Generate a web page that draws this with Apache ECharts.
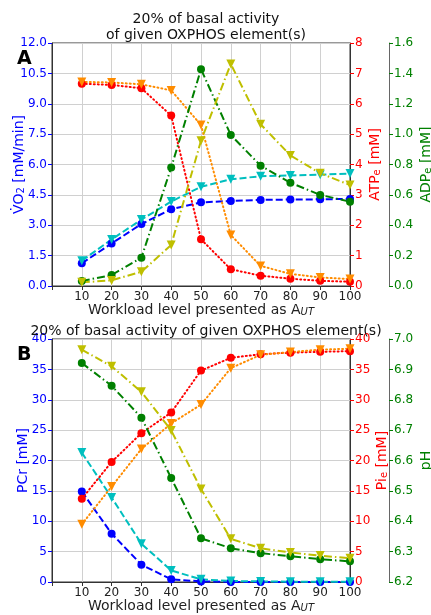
<!DOCTYPE html>
<html><head><meta charset="utf-8">
<script src="https://cdn.jsdelivr.net/npm/echarts@6/dist/echarts.min.js"></script>
<style>html,body{margin:0;padding:0;background:#fff}#c{width:431px;height:615px}</style>
</head><body><div id="c"></div>
<script>
// ---- data ----
const workload = [10,20,30,40,50,60,70,80,90,100];
// Panel A
const vo2Circle = [1.12,2.10,3.06,3.79,4.13,4.20,4.25,4.27,4.28,4.30];
const vo2Tri    = [1.25,2.30,3.28,4.17,4.90,5.27,5.42,5.46,5.50,5.55];
const atpCircle = [6.66,6.62,6.51,5.61,1.54,0.55,0.34,0.24,0.17,0.14];
const atpTri    = [6.72,6.70,6.64,6.44,5.30,1.68,0.66,0.40,0.28,0.23];
const adpCircle = [0.033,0.072,0.186,0.78,1.427,0.994,0.792,0.68,0.60,0.555];
const adpTri    = [0.024,0.037,0.094,0.27,0.957,1.462,1.065,0.86,0.742,0.665];
// Panel B
const pcrCircle = [14.9,7.96,2.85,0.44,0.10,0.02,0.02,0.02,0.02,0.02];
const pcrTri    = [21.3,13.9,6.3,1.9,0.44,0.16,0.10,0.05,0.05,0.05];
const piCircle  = [13.7,19.75,24.5,27.9,34.8,36.9,37.5,37.75,37.9,38.0];
const piTri     = [9.5,15.7,21.9,26.1,29.2,35.2,37.4,37.85,38.25,38.4];
const phCircle  = [6.921,6.846,6.741,6.542,6.344,6.311,6.295,6.285,6.275,6.268];
const phTri     = [6.965,6.91,6.826,6.699,6.506,6.342,6.311,6.297,6.287,6.278];

const titleA1 = '20% of basal activity';
const titleA2 = 'of given OXPHOS element(s)';
const titleB = '20% of basal activity of given OXPHOS element(s)';

// ---- styling ----
const FONT = 'DejaVu Sans';
const BLUE='#0000ff', CYAN='#00bfbf', RED='#ff0000', ORANGE='#ff8c00', GREEN='#008000', OLIVE='#bfbf00';
const GRIDC = '#d0d0d0';

function richFor(color){
  return {
    a:{fontSize:14, color:color, fontFamily:FONT, lineHeight:17, verticalAlign:'bottom'},
    b:{fontSize:10, color:color, fontFamily:FONT, lineHeight:6, verticalAlign:'bottom'},
    c:{fontSize:10, color:color, fontFamily:FONT, fontStyle:'italic', lineHeight:6, verticalAlign:'bottom'}
  };
}

function xAx(gi){
  return {
    type:'value', gridIndex:gi, min:0, max:100, interval:10,
    axisLine:{show:true, onZero:false, lineStyle:{color:'#333', width:1}},
    axisTick:{show:true, length:4, lineStyle:{color:'#333'}},
    axisLabel:{margin:5, color:'#222', fontSize:12, fontFamily:FONT, formatter:v=> v===0?'':String(v)},
    splitLine:{show:true, lineStyle:{color:GRIDC, width:1}},
    name:'{a|Workload level presented as A}{c|UT}',
    nameLocation:'middle', nameGap:14, nameMoveOverlap:false,
    nameTextStyle:{rich:richFor('#222')}
  };
}

function yAx(gi, min, max, interval, pos, offset, color, dec, name, nameGap, split, spineColor){
  return {
    type:'value', gridIndex:gi, min:min, max:max, interval:interval, position:pos, offset:offset,
    axisLine:{show:true, onZero:false, lineStyle:{color:spineColor, width:1}},
    axisTick:{show:true, length:4, lineStyle:{color:color}},
    axisLabel:{margin:5, color:color, fontSize:12, fontFamily:FONT, formatter:v=> v.toFixed(dec)},
    splitLine:{show:split, lineStyle:{color:GRIDC, width:1}},
    name:name, nameLocation:'middle', nameGap:nameGap, nameRotate:90, nameMoveOverlap:false,
    nameTextStyle:{rich:richFor(color)}
  };
}

const DASH=[7,3], DOT=[1,3], DASHDOT=[8,3,1.5,3];
function ser(xi, yi, vals, color, dash, tri){
  return {
    type:'line', xAxisIndex:xi, yAxisIndex:yi,
    data: workload.map((x,i)=>[x, vals[i]]),
    symbol: tri?'triangle':'circle', symbolSize: tri?9:8, symbolRotate: tri?180:0,
    showSymbol:true, animation:false,
    itemStyle:{color:color},
    lineStyle:{color:color, width:2, type:dash, cap: dash===DOT?'round':'butt'},
    z: 3
  };
}

const chart = echarts.init(document.getElementById('c'), null, {renderer:'canvas'});
chart.setOption({
  backgroundColor:'#fff',
  animation:false,
  textStyle:{fontFamily:FONT},
  title:[
    {text:titleA1+'\n'+titleA2, left:201, top:6, textAlign:'center',
     textStyle:{fontSize:14, fontWeight:'normal', color:'#111', lineHeight:16, fontFamily:FONT}},
    {text:titleB, left:201, top:319, textAlign:'center',
     textStyle:{fontSize:14, fontWeight:'normal', color:'#111', fontFamily:FONT}}
  ],
  grid:[
    {left:52, top:43, width:298, height:243, show:true, borderColor:'#333', borderWidth:1, backgroundColor:'transparent', outerBoundsMode:'none', containLabel:false},
    {left:52, top:339, width:298, height:243, show:true, borderColor:'#333', borderWidth:1, backgroundColor:'transparent', outerBoundsMode:'none', containLabel:false}
  ],
  xAxis:[xAx(0), xAx(1)],
  yAxis:[
    yAx(0, 0, 12, 1.5, 'left', 0, BLUE, 1, '{a|V\u0307O}{b|2}{a| [mM/min]}', 26, true, '#333'),
    yAx(0, 0, 8, 1, 'right', 0, RED, 0, '{a|ATP}{b|e}{a| [mM]}', 15, false, '#333'),
    yAx(0, 0, 1.6, 0.2, 'right', 39, GREEN, 1, '{a|ADP}{b|e}{a| [mM]}', 27, false, '#666'),
    yAx(1, 0, 40, 5, 'left', 0, BLUE, 0, '{a|PCr [mM]}', 22, true, '#333'),
    yAx(1, 0, 40, 5, 'right', 0, RED, 0, '{a|Pi}{b|e}{a| [mM]}', 22, false, '#333'),
    yAx(1, 6.2, 7.0, 0.1, 'right', 39, GREEN, 1, '{a|pH}', 27, false, '#666')
  ],
  graphic:[
    {type:'text', left:17, top:50, style:{text:'A', fontSize:19, fontWeight:'bold', fill:'#000', fontFamily:FONT}},
    {type:'text', left:17, top:346, style:{text:'B', fontSize:19, fontWeight:'bold', fill:'#000', fontFamily:FONT}}
  ],
  series:[
    ser(0,0,vo2Circle,BLUE,DASH,false),
    ser(0,0,vo2Tri,CYAN,DASH,true),
    ser(0,1,atpCircle,RED,DOT,false),
    ser(0,1,atpTri,ORANGE,DOT,true),
    ser(0,2,adpCircle,GREEN,DASHDOT,false),
    ser(0,2,adpTri,OLIVE,DASHDOT,true),
    ser(1,3,pcrCircle,BLUE,DASH,false),
    ser(1,3,pcrTri,CYAN,DASH,true),
    ser(1,4,piCircle,RED,DOT,false),
    ser(1,4,piTri,ORANGE,DOT,true),
    ser(1,5,phCircle,GREEN,DASHDOT,false),
    ser(1,5,phTri,OLIVE,DASHDOT,true)
  ]
});
</script></body></html>
